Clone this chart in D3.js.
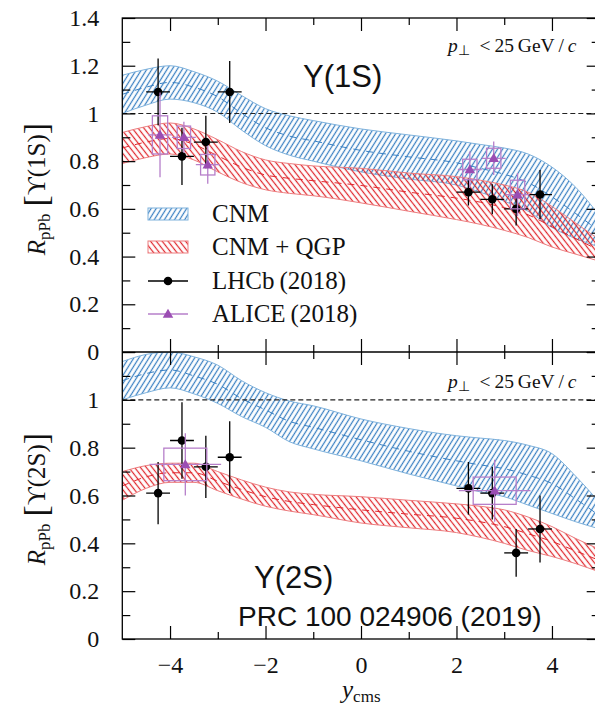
<!DOCTYPE html>
<html><head><meta charset="utf-8">
<script src="https://cdn.jsdelivr.net/npm/d3@7"></script>
<style>body{margin:0;background:#fff;} svg{display:block;}</style>
</head><body>
<svg id="c" width="595" height="707"></svg>
<script>
// ---------- data ----------
const rapidity = [-5,-4.5,-4,-3.5,-3,-2.5,-2,-1.5,-1,0,1,2,2.5,3,3.5,4,4.5,5];
// Upsilon(1S) panel bands
const cnm1sHi  = [1.16,1.185,1.20,1.175,1.135,1.075,1.02,0.99,0.97,0.935,0.91,0.885,0.87,0.855,0.83,0.775,0.69,0.57];
const cnm1sMid = [1.08,1.11,1.13,1.11,1.07,1.00,0.94,0.905,0.885,0.845,0.818,0.793,0.77,0.745,0.71,0.65,0.58,0.505];
const cnm1sLo  = [1.00,1.035,1.06,1.045,1.005,0.93,0.865,0.825,0.80,0.755,0.725,0.70,0.67,0.632,0.59,0.522,0.475,0.44];
const qgp1sHi  = [0.92,0.945,0.96,0.935,0.89,0.84,0.805,0.79,0.78,0.77,0.75,0.735,0.72,0.70,0.67,0.61,0.54,0.47];
const qgp1sMid = [0.855,0.88,0.895,0.87,0.822,0.775,0.742,0.728,0.718,0.698,0.67,0.645,0.628,0.605,0.575,0.525,0.475,0.425];
const qgp1sLo  = [0.79,0.815,0.83,0.805,0.755,0.71,0.68,0.665,0.655,0.625,0.59,0.555,0.535,0.51,0.48,0.44,0.41,0.38];
// Upsilon(2S) panel bands
const cnm2sHi  = [1.16,1.19,1.20,1.18,1.145,1.08,1.03,0.995,0.975,0.92,0.88,0.85,0.84,0.83,0.81,0.775,0.68,0.57];
const cnm2sMid = [1.08,1.11,1.125,1.10,1.065,1.005,0.958,0.91,0.885,0.833,0.785,0.745,0.728,0.712,0.685,0.65,0.585,0.515];
const cnm2sLo  = [1.00,1.03,1.05,1.025,0.985,0.93,0.885,0.825,0.795,0.745,0.69,0.64,0.615,0.595,0.56,0.525,0.49,0.46];
const qgp2sHi  = [0.70,0.725,0.735,0.735,0.70,0.665,0.635,0.615,0.605,0.595,0.58,0.565,0.555,0.54,0.51,0.47,0.42,0.375];
const qgp2sMid = [0.64,0.678,0.695,0.695,0.66,0.625,0.595,0.575,0.562,0.54,0.522,0.505,0.49,0.47,0.44,0.408,0.368,0.328];
const qgp2sLo  = [0.58,0.63,0.655,0.655,0.62,0.585,0.555,0.535,0.52,0.485,0.465,0.445,0.425,0.40,0.37,0.345,0.315,0.28];

// LHCb (2018)
const lhcbY    = [-4.25,-3.75,-3.25,-2.75,2.25,2.75,3.25,3.75];
const lhcbHalf = [0.25,0.25,0.25,0.25,0.25,0.25,0.25,0.25];
const lhcb1s   = [1.09,0.82,0.88,1.09,0.67,0.64,0.60,0.66];
const lhcb1sErr= [0.14,0.12,0.11,0.13,0.056,0.063,0.07,0.103];
const lhcb2s   = [0.61,0.83,0.72,0.76,0.63,0.61,0.36,0.46];
const lhcb2sErr= [0.13,0.16,0.13,0.15,0.11,0.11,0.10,0.14];

// ALICE (2018)
const alice1sY    = [-4.21,-3.71,-3.21,2.28,2.78,3.28];
const alice1sHalf = [0.25,0.25,0.25,0.25,0.25,0.25];
const alice1s     = [0.91,0.90,0.785,0.765,0.812,0.66];
const alice1sStat = [0.178,0.065,0.08,0.075,0.07,0.09];
const alice1sSyst = [0.08,0.047,0.043,0.043,0.042,0.06];
const alice1sBox  = [0.16,0.14,0.15,0.15,0.15,0.15];
const alice2sY    = [-3.68,2.8];
const alice2sHalf = [0.75,0.75];
const alice2s     = [0.73,0.62];
const alice2sStat = [0.13,0.13];
const alice2sSyst = [0.068,0.057];
const alice2sBox  = [0.45,0.45];

// ticks
const xMajor = [-4,-2,0,2,4];
const xMinor = [-3,-1,1,3];
const xLabels = ["−4","−2","0","2","4"];
const yTopMajor = [0,0.2,0.4,0.6,0.8,1,1.2,1.4];
const yTopLabels = ["0","0.2","0.4","0.6","0.8","1","1.2","1.4"];
const yTopMinor = [0.1,0.3,0.5,0.7,0.9,1.1,1.3];
const yBotMajor = [0,0.2,0.4,0.6,0.8,1,1.2];
const yBotLabels = ["0","0.2","0.4","0.6","0.8","1",""];
const yBotMinor = [0.1,0.3,0.5,0.7,0.9,1.1];

// ---------- drawing ----------
const svg = d3.select("#c");
const L = 122.3, R = 599.7, T = 18, M = 352, B = 639;
const x = d3.scaleLinear().domain([-5,5]).range([L,R]);
const yTop = d3.scaleLinear().domain([0,1.4]).range([M,T]);
const yBot = d3.scaleLinear().domain([0,1.2]).range([B,M]);

const BLUE = "#3a80c2", BLUE_L = "#7fb2dc", RED = "#e0282e", RED_L = "#ec7c7e";
const PURPLE = "#9b4db3", PURPLE_L = "#b67fca";
const serif = "'Liberation Serif','Times New Roman',serif";
const sans = "'Liberation Sans',Arial,sans-serif";

const defs = svg.append("defs");
function hatch(id, color, angle, w) {
  const p = defs.append("pattern").attr("id", id)
    .attr("patternUnits","userSpaceOnUse").attr("width",w).attr("height",w)
    .attr("patternTransform",`rotate(${angle})`);
  p.append("line").attr("x1",w/2).attr("y1",-1).attr("x2",w/2).attr("y2",w+1)
    .attr("stroke",color).attr("stroke-width",1.25);
}
hatch("hBlue", BLUE, 32, 4.3);
hatch("hRed", RED, -38, 4.6);
defs.append("clipPath").attr("id","clipTop").append("rect").attr("x",L).attr("y",T).attr("width",R-L).attr("height",M-T);
defs.append("clipPath").attr("id","clipBot").append("rect").attr("x",L).attr("y",M).attr("width",R-L).attr("height",B-M);

function band(g, y, hi, mid, lo, pat, col, colL) {
  const pts = rapidity.map((r,i)=>({r, hi:hi[i], mid:mid[i], lo:lo[i]}));
  const area = d3.area().x(d=>x(d.r)).y0(d=>y(d.lo)).y1(d=>y(d.hi)).curve(d3.curveMonotoneX);
  g.append("path").datum(pts).attr("d",area).attr("fill",`url(#${pat})`).attr("stroke","none");
  const ln = k => d3.line().x(d=>x(d.r)).y(d=>y(d[k])).curve(d3.curveMonotoneX);
  g.append("path").datum(pts).attr("d",ln("hi")).attr("fill","none").attr("stroke",colL).attr("stroke-width",1);
  g.append("path").datum(pts).attr("d",ln("lo")).attr("fill","none").attr("stroke",colL).attr("stroke-width",1);
  g.append("path").datum(pts).attr("d",ln("mid")).attr("fill","none").attr("stroke",col).attr("stroke-width",1).attr("stroke-dasharray","7,6");
}

function lhcb(g, y, vals, errs) {
  lhcbY.forEach((r,i)=>{
    g.append("line").attr("x1",x(r)).attr("x2",x(r)).attr("y1",y(vals[i]-errs[i])).attr("y2",y(vals[i]+errs[i])).attr("stroke","#000").attr("stroke-width",1.3);
    g.append("line").attr("x1",x(r-lhcbHalf[i])).attr("x2",x(r+lhcbHalf[i])).attr("y1",y(vals[i])).attr("y2",y(vals[i])).attr("stroke","#000").attr("stroke-width",1.3);
    g.append("circle").attr("cx",x(r)).attr("cy",y(vals[i])).attr("r",4.3).attr("fill","#000");
  });
}
const tri = d3.symbol().type(d3.symbolTriangle).size(48);
function alice(g, y, rs, vals, stat, syst, half, box) {
  rs.forEach((r,i)=>{
    g.append("rect").attr("x",x(r-box[i])).attr("y",y(vals[i]+syst[i])).attr("width",x(r+box[i])-x(r-box[i])).attr("height",y(vals[i]-syst[i])-y(vals[i]+syst[i]))
      .attr("fill","none").attr("stroke",PURPLE_L).attr("stroke-width",1.3);
    g.append("line").attr("x1",x(r)).attr("x2",x(r)).attr("y1",y(vals[i]-stat[i])).attr("y2",y(vals[i]+stat[i])).attr("stroke",PURPLE_L).attr("stroke-width",1.3);
    g.append("line").attr("x1",x(r-half[i])).attr("x2",x(r+half[i])).attr("y1",y(vals[i])).attr("y2",y(vals[i])).attr("stroke",PURPLE_L).attr("stroke-width",1.3);
    g.append("path").attr("d",tri).attr("transform",`translate(${x(r)},${y(vals[i])+0.8})`).attr("fill",PURPLE);
  });
}

function refLine(g, y) {
  g.append("line").attr("x1",L).attr("x2",R).attr("y1",y(1)).attr("y2",y(1)).attr("stroke","#222").attr("stroke-width",1.1).attr("stroke-dasharray","5,3");
}

// top panel
const gTop = svg.append("g").attr("clip-path","url(#clipTop)");
band(gTop, yTop, cnm1sHi, cnm1sMid, cnm1sLo, "hBlue", BLUE, BLUE_L);
band(gTop, yTop, qgp1sHi, qgp1sMid, qgp1sLo, "hRed", RED, RED_L);
refLine(gTop, yTop);
lhcb(gTop, yTop, lhcb1s, lhcb1sErr);
alice(gTop, yTop, alice1sY, alice1s, alice1sStat, alice1sSyst, alice1sHalf, alice1sBox);

// bottom panel
const gBot = svg.append("g").attr("clip-path","url(#clipBot)");
band(gBot, yBot, cnm2sHi, cnm2sMid, cnm2sLo, "hBlue", BLUE, BLUE_L);
band(gBot, yBot, qgp2sHi, qgp2sMid, qgp2sLo, "hRed", RED, RED_L);
refLine(gBot, yBot);
lhcb(gBot, yBot, lhcb2s, lhcb2sErr);
alice(gBot, yBot, alice2sY, alice2s, alice2sStat, alice2sSyst, alice2sHalf, alice2sBox);

// axes
function styleAxis(sel) {
  sel.select(".domain").remove();
  sel.selectAll(".tick line").attr("stroke","#000").attr("stroke-width",1.2);
  sel.selectAll("text").attr("font-family",serif).attr("font-size",24).attr("fill","#111");
}
function addAxis(axis, tx, ty) {
  svg.append("g").attr("transform",`translate(${tx},${ty})`).call(axis).call(styleAxis);
}
// x axes
addAxis(d3.axisBottom(x).tickValues(xMajor).tickSize(-13).tickPadding(17).tickFormat((d,i)=>xLabels[i]), 0, B);
addAxis(d3.axisBottom(x).tickValues(xMinor).tickSize(-7).tickFormat(""), 0, B);
[T, M].forEach(yy=>{
  addAxis(d3.axisTop(x).tickValues(xMajor).tickSize(-13).tickFormat(""), 0, yy);
  addAxis(d3.axisTop(x).tickValues(xMinor).tickSize(-7).tickFormat(""), 0, yy);
});
addAxis(d3.axisBottom(x).tickValues(xMajor).tickSize(-13).tickFormat(""), 0, M);
addAxis(d3.axisBottom(x).tickValues(xMinor).tickSize(-7).tickFormat(""), 0, M);
// y axes
addAxis(d3.axisLeft(yTop).tickValues(yTopMajor).tickSize(-13).tickPadding(23).tickFormat((d,i)=>yTopLabels[i]), L, 0);
addAxis(d3.axisLeft(yTop).tickValues(yTopMinor).tickSize(-8).tickFormat(""), L, 0);
addAxis(d3.axisRight(yTop).tickValues(yTopMajor).tickSize(-13).tickFormat(""), R, 0);
addAxis(d3.axisRight(yTop).tickValues(yTopMinor).tickSize(-8).tickFormat(""), R, 0);
addAxis(d3.axisLeft(yBot).tickValues(yBotMajor).tickSize(-13).tickPadding(23).tickFormat((d,i)=>yBotLabels[i]), L, 0);
addAxis(d3.axisLeft(yBot).tickValues(yBotMinor).tickSize(-8).tickFormat(""), L, 0);
addAxis(d3.axisRight(yBot).tickValues(yBotMajor).tickSize(-13).tickFormat(""), R, 0);
addAxis(d3.axisRight(yBot).tickValues(yBotMinor).tickSize(-8).tickFormat(""), R, 0);

// frames
svg.append("rect").attr("x",L).attr("y",T).attr("width",R-L).attr("height",B-T).attr("fill","none").attr("stroke","#000").attr("stroke-width",1.3);
svg.append("line").attr("x1",L).attr("x2",R).attr("y1",M).attr("y2",M).attr("stroke","#000").attr("stroke-width",1.3);

// legend
const legendItems = ["CNM","CNM + QGP","LHCb\u2009(2018)","ALICE\u2009(2018)"];
const legRows = [214, 247, 281, 314];
const lg = svg.append("g");
lg.append("rect").attr("x",148).attr("y",legRows[0]-6).attr("width",40).attr("height",12).attr("fill","url(#hBlue)").attr("stroke",BLUE_L).attr("stroke-width",1);
lg.append("rect").attr("x",148).attr("y",legRows[1]-6).attr("width",40).attr("height",12).attr("fill","url(#hRed)").attr("stroke",RED_L).attr("stroke-width",1);
lg.append("line").attr("x1",148).attr("x2",188).attr("y1",legRows[2]).attr("y2",legRows[2]).attr("stroke","#000").attr("stroke-width",1.3);
lg.append("circle").attr("cx",168).attr("cy",legRows[2]).attr("r",4.3).attr("fill","#000");
lg.append("line").attr("x1",148).attr("x2",188).attr("y1",legRows[3]).attr("y2",legRows[3]).attr("stroke",PURPLE_L).attr("stroke-width",1.3);
lg.append("path").attr("d",tri).attr("transform",`translate(168,${legRows[3]+0.8})`).attr("fill",PURPLE);
legendItems.forEach((t,i)=>{
  lg.append("text").attr("x",212).attr("y",legRows[i]+8).attr("font-family",serif).attr("font-size",25).attr("fill","#111").text(t);
});

// pT labels
[52, 388].forEach(by=>{
  const t = svg.append("text").attr("x",448).attr("y",by).attr("font-family",serif).attr("font-size",19.5).attr("fill","#111");
  t.append("tspan").attr("font-style","italic").text("p");
  t.append("tspan").attr("font-size",14).attr("dy",3).text("⊥");
  t.append("tspan").attr("dy",-3).text("\u2002<\u200925\u2009GeV\u2009/\u2009");
  t.append("tspan").attr("font-style","italic").text("c");
});

// state labels
svg.append("text").attr("x",303).attr("y",87).attr("font-family",sans).attr("font-size",31).attr("fill","#111").text("Υ(1S)");
svg.append("text").attr("x",254).attr("y",588).attr("font-family",sans).attr("font-size",31).attr("fill","#111").text("Υ(2S)");
svg.append("text").attr("x",238).attr("y",626).attr("font-family",sans).attr("font-size",28).attr("fill","#111").text("PRC 100 024906 (2019)");

// y labels
function yLabel(cx, cy, state) {
  const t = svg.append("text").attr("transform",`translate(${cx},${cy}) rotate(-90)`).attr("text-anchor","middle")
    .attr("font-family",serif).attr("font-size",25).attr("fill","#111");
  t.append("tspan").attr("font-style","italic").text("R");
  t.append("tspan").attr("font-size",17).attr("dy",5).text("pPb");
  t.append("tspan").attr("font-size",34).attr("dy",-3).text("\u2009[");
  t.append("tspan").attr("dy",-2).text("ϒ(" + state + ")");
  t.append("tspan").attr("font-size",34).attr("dy",2).text("]");
}
yLabel(45, 189, "1S");
yLabel(45, 499, "2S");

// x label
const xl = svg.append("text").attr("x",342).attr("y",698).attr("font-family",serif).attr("font-size",25).attr("fill","#111");
xl.append("tspan").attr("font-style","italic").text("y");
xl.append("tspan").attr("font-size",17).attr("dy",4).text("cms");
</script>
</body></html>
